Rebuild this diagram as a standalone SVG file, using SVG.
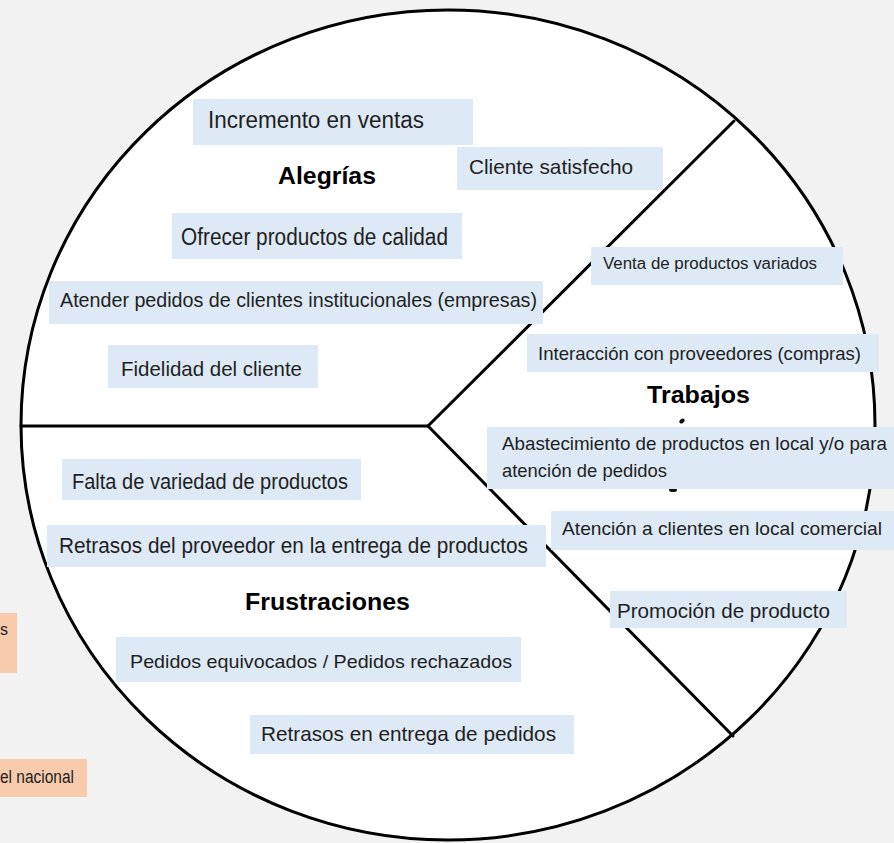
<svg xmlns="http://www.w3.org/2000/svg" width="894" height="843" viewBox="0 0 894 843">
  <style>
    .bg { fill: #f2f2f2; }
    .wheel { fill: #ffffff; stroke: #000000; stroke-width: 3; }
    .divider { stroke: #000000; stroke-width: 3; fill: none; stroke-linecap: round; }
    .box { fill: #dde9f5; }
    .note { fill: #f8cbad; }
    .t { font-family: "Liberation Sans", Arial, sans-serif; fill: #1f1f1f; }
    .h { font-family: "Liberation Sans", Arial, sans-serif; font-weight: bold; fill: #000000; font-size: 24px; }
    .mark { fill: #111111; }
  </style>

  <rect class="bg" x="0" y="0" width="894" height="843"/>

  <!-- side notes partly cut off at the left edge -->
  <g id="note-1">
    <rect class="note" x="0" y="613" width="17" height="60"/>
    <text class="t" x="0" y="635" font-size="16">s</text>
  </g>
  <g id="note-2">
    <rect class="note" x="0" y="759" width="87" height="38"/>
    <text class="t" x="0" y="783" font-size="18" textLength="74" lengthAdjust="spacingAndGlyphs">el nacional</text>
  </g>

  <!-- the wheel -->
  <ellipse class="wheel" cx="448" cy="425" rx="427" ry="415"/>

  <!-- dividers between the three sectors -->
  <g id="connectors">
    <line class="divider" x1="21" y1="426" x2="428" y2="426"/>
    <line class="divider" x1="428" y1="426" x2="734" y2="121"/>
    <line class="divider" x1="428" y1="426" x2="733" y2="736"/>
  </g>

  <!-- small marks behind the Trabajos list -->
  <ellipse class="mark" cx="682" cy="421" rx="3" ry="2" transform="rotate(-35 682 421)"/>
  <ellipse class="mark" cx="673" cy="490" rx="4" ry="2"/>

  <!-- sector headings -->
  <g id="heading-alegrias"><text class="h" x="278" y="184" textLength="98" lengthAdjust="spacingAndGlyphs">Alegrías</text></g>
  <g id="heading-trabajos"><text class="h" x="647" y="403" textLength="103" lengthAdjust="spacingAndGlyphs">Trabajos</text></g>
  <g id="heading-frustraciones"><text class="h" x="245" y="610" textLength="165" lengthAdjust="spacingAndGlyphs">Frustraciones</text></g>

  <!-- Alegrías -->
  <g id="incremento-ventas">
    <rect class="box" x="193" y="99" width="280" height="46"/>
    <text class="t" x="208" y="128" font-size="23" textLength="216" lengthAdjust="spacingAndGlyphs">Incremento en ventas</text>
  </g>
  <g id="cliente-satisfecho">
    <rect class="box" x="457" y="147" width="206" height="43"/>
    <text class="t" x="469" y="174" font-size="21" textLength="164" lengthAdjust="spacingAndGlyphs">Cliente satisfecho</text>
  </g>
  <g id="ofrecer-calidad">
    <rect class="box" x="172" y="213" width="290" height="46"/>
    <text class="t" x="181" y="245" font-size="23" textLength="267" lengthAdjust="spacingAndGlyphs">Ofrecer productos de calidad</text>
  </g>
  <g id="atender-pedidos">
    <rect class="box" x="49" y="281" width="494" height="43"/>
    <text class="t" x="60" y="307" font-size="21" textLength="477" lengthAdjust="spacingAndGlyphs">Atender pedidos de clientes institucionales (empresas)</text>
  </g>
  <g id="fidelidad-cliente">
    <rect class="box" x="108" y="345" width="210" height="43"/>
    <text class="t" x="121" y="376" font-size="21" textLength="181" lengthAdjust="spacingAndGlyphs">Fidelidad del cliente</text>
  </g>

  <!-- Trabajos -->
  <g id="venta-variados">
    <rect class="box" x="591" y="247" width="252" height="38"/>
    <text class="t" x="603" y="269" font-size="16" textLength="214" lengthAdjust="spacingAndGlyphs">Venta de productos variados</text>
  </g>
  <g id="interaccion-proveedores">
    <rect class="box" x="527" y="334" width="352" height="38"/>
    <text class="t" x="538" y="360" font-size="18.5" textLength="323" lengthAdjust="spacingAndGlyphs">Interacción con proveedores (compras)</text>
  </g>
  <g id="abastecimiento">
    <rect class="box" x="487" y="427" width="407" height="62"/>
    <text class="t" x="502" y="450" font-size="19" textLength="385" lengthAdjust="spacingAndGlyphs">Abastecimiento de productos en local y/o para</text>
    <text class="t" x="502" y="477" font-size="19" textLength="165" lengthAdjust="spacingAndGlyphs">atención de pedidos</text>
  </g>
  <g id="atencion-clientes">
    <rect class="box" x="551" y="511" width="343" height="39"/>
    <text class="t" x="562" y="535" font-size="19" textLength="320" lengthAdjust="spacingAndGlyphs">Atención a clientes en local comercial</text>
  </g>
  <g id="promocion-producto">
    <rect class="box" x="610" y="591" width="237" height="37"/>
    <text class="t" x="617" y="618" font-size="19.5" textLength="213" lengthAdjust="spacingAndGlyphs">Promoción de producto</text>
  </g>

  <!-- Frustraciones -->
  <g id="falta-variedad">
    <rect class="box" x="62" y="459" width="299" height="41"/>
    <text class="t" x="72" y="489" font-size="22" textLength="276" lengthAdjust="spacingAndGlyphs">Falta de variedad de productos</text>
  </g>
  <g id="retrasos-proveedor">
    <rect class="box" x="47" y="525" width="499" height="42"/>
    <text class="t" x="59" y="553" font-size="22" textLength="469" lengthAdjust="spacingAndGlyphs">Retrasos del proveedor en la entrega de productos</text>
  </g>
  <g id="pedidos-equivocados">
    <rect class="box" x="116" y="637" width="405" height="45"/>
    <text class="t" x="130" y="668" font-size="18.5" textLength="382" lengthAdjust="spacingAndGlyphs">Pedidos equivocados / Pedidos rechazados</text>
  </g>
  <g id="retrasos-entrega">
    <rect class="box" x="250" y="715" width="324" height="39"/>
    <text class="t" x="261" y="741" font-size="21" textLength="295" lengthAdjust="spacingAndGlyphs">Retrasos en entrega de pedidos</text>
  </g>
</svg>
